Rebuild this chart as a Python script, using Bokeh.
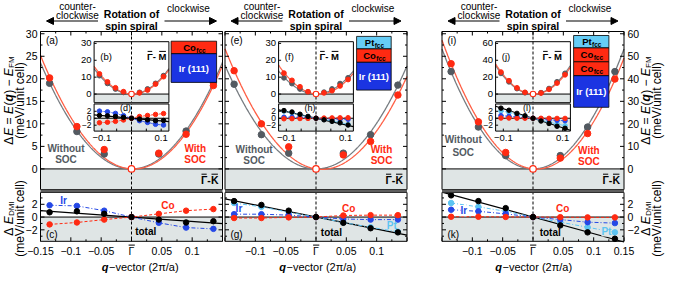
import numpy as np
from bokeh.plotting import figure
from bokeh.models import Range1d, Arrow, NormalHead
from bokeh.embed import file_html
from bokeh.resources import INLINE
from bokeh.core.properties import value

# ---------------- data ----------------
q = [-0.135, -0.09, -0.045, 0.0, 0.045, 0.09, 0.135]
q_inset = [-0.108, -0.081, -0.054, -0.027, 0.0, 0.027, 0.054, 0.081, 0.108]

# Co/Ir(111): (a) (c) (b) (d)
a_without = [19.0, 8.3, 3.3, 0.0, 3.3, 8.4, 19.1]
a_with = [20.2, 9.4, 4.3, 0.0, 3.5, 7.7, 18.5]
c_ir = [1.85, 1.75, 1.0, 0.0, -0.9, -1.65, -1.85]
c_co = [-1.15, -0.85, -0.4, 0.0, 0.5, 1.0, 1.25]
c_total = [0.75, 0.9, 0.5, 0.0, -0.4, -0.85, -0.65]
b_without = [10.9, 6.3, 3.0, 1.0, 0.0, 1.0, 3.0, 6.3, 10.9]
b_with = [11.9, 7.2, 3.7, 1.4, 0.0, 0.7, 2.4, 5.9, 10.3]
d_ir = [2.05, 1.85, 1.4, 0.75, 0.0, -0.7, -1.2, -1.75, -1.95]
d_co = [-1.3, -1.15, -0.9, -0.5, 0.0, 0.5, 0.8, 1.1, 1.35]
d_total = [0.8, 0.7, 0.5, 0.25, 0.0, -0.25, -0.45, -0.7, -0.65]

# Pt/Co/Ir(111): (e) (g) (f) (h)
e_without = [18.8, 7.6, 3.5, 0.0, 3.5, 7.6, 18.6]
e_with = [21.8, 10.0, 4.9, 0.0, 3.1, 6.1, 16.4]
g_ir = [0.45, 0.45, 0.3, 0.0, -0.3, -0.4, -0.4]
g_co = [-0.15, -0.15, -0.05, 0.0, 0.25, 0.3, 0.3]
g_pt = [2.2, 1.6, 0.75, 0.0, -0.85, -1.6, -2.3]
g_total = [2.5, 1.9, 1.0, 0.0, -0.9, -1.75, -2.4]
f_without = [9.6, 6.2, 3.0, 1.1, 0.0, 1.1, 3.0, 6.2, 9.6]
f_with = [12.4, 8.1, 4.3, 1.4, 0.0, 0.7, 2.0, 4.8, 8.6]
h_ir = [0.3, 0.3, 0.25, 0.15, 0.0, -0.15, -0.2, -0.25, -0.3]
h_co = [-0.15, -0.12, -0.08, -0.05, 0.0, 0.05, 0.1, 0.12, 0.15]
h_pt = [2.05, 1.6, 1.0, 0.45, 0.0, -0.35, -0.8, -1.2, -1.8]
h_total = [2.2, 1.8, 1.15, 0.53, 0.0, -0.45, -0.9, -1.33, -1.95]

# Pt/Co/Co/Ir(111): (i) (k) (j) (l)
i_without = [43.2, 18.6, 5.9, 0.0, 5.9, 18.6, 43.2]
i_with = [46.7, 20.9, 7.3, 0.0, 4.8, 15.7, 39.9]
k_ir = [1.15, 0.9, 0.5, 0.0, -0.4, -0.8, -0.95]
k_co = [0.05, 0.05, 0.02, 0.0, -0.02, -0.05, -0.05]
k_pt = [2.2, 1.6, 0.9, 0.0, -0.8, -1.6, -2.4]
k_total = [3.4, 2.5, 1.4, 0.0, -1.3, -2.4, -3.4]
j_without = [24.5, 14.5, 6.5, 1.6, 0.0, 1.6, 6.5, 14.5, 24.5]
j_with = [26.0, 15.8, 7.3, 2.0, 0.0, 1.2, 5.6, 13.0, 22.8]
l_ir = [0.75, 0.55, 0.35, 0.15, 0.0, -0.2, -0.4, -0.6, -0.7]
l_co = [0.05, 0.05, 0.02, 0.01, 0.0, -0.01, -0.02, -0.05, -0.05]
l_pt = [2.1, 1.7, 1.0, 0.55, 0.0, -0.6, -1.1, -1.65, -2.15]
l_total = [2.9, 2.3, 1.4, 0.7, 0.0, -0.8, -1.5, -2.3, -2.9]

# tick values / labels
energy_ticks = [[0, 5, 10, 15, 20, 25, 30], [0, 5, 10, 15, 20, 25, 30], [0, 10, 20, 30, 40, 50, 60]]
dmi_ticks = [-2, 0, 2]
dmi_minor = [-3, -1, 1, 3]
q_labels = [[-0.15, -0.1, -0.05, 0.0, 0.05, 0.1],
            [-0.1, -0.05, 0.0, 0.05, 0.1],
            [-0.1, -0.05, 0.0, 0.05, 0.1, 0.15]]
q_marks = [-0.15, -0.1, -0.05, 0.0, 0.05, 0.1, 0.15]
inset_e_ticks = [[0, 10, 20, 30], [0, 10, 20, 30], [0, 20, 40, 60]]
inset_q_labels = [-0.1, 0.1]
inset_q_marks = [-0.1, -0.05, 0.0, 0.05, 0.1]
layers = [["Co", "Ir (111)"], ["Pt", "Co", "Ir (111)"], ["Pt", "Co", "Co", "Ir (111)"]]
tags = [["(a)", "(b)", "(c)", "(d)"], ["(e)", "(f)", "(g)", "(h)"], ["(i)", "(j)", "(k)", "(l)"]]

COLS = [
    dict(wo=a_without, wi=a_with, ir=c_ir, co=c_co, pt=None, tot=c_total,
         iwo=b_without, iwi=b_with, iir=d_ir, ico=d_co, ipt=None, itot=d_total),
    dict(wo=e_without, wi=e_with, ir=g_ir, co=g_co, pt=g_pt, tot=g_total,
         iwo=f_without, iwi=f_with, iir=h_ir, ico=h_co, ipt=h_pt, itot=h_total),
    dict(wo=i_without, wi=i_with, ir=k_ir, co=k_co, pt=k_pt, tot=k_total,
         iwo=j_without, iwi=j_with, iir=l_ir, ico=l_co, ipt=l_pt, itot=l_total),
]

# ---------------- layout (canvas pixels) ----------------
W, H = 665, 273
COLS_X = [(40.0, 222.0), (224.5, 406.5), (441.5, 623.5)]
TOP = (31.0, 189.0)
SEP = (189.0, 192.0)
BOT = (192.0, 240.8)
E_RANGE = [(-4.57, 30.5), (-4.57, 30.5), (-9.14, 61.0)]
D_RANGE = (-3.8, 3.85)
Q_RANGE = (-0.15, 0.15)
IQ = 0.126
IHALF = 37.4
ITOP = (41.2, 102.0)
ISEP = (102.0, 103.5)
IBOT = (103.5, 130.6)
IE_RANGE = [(-5.0, 31.0), (-5.0, 31.0), (-10.0, 62.0)]
ID_RANGE = (-3.7, 4.1)
BOX_X = [(39.6, 85.1), (40.6, 75.2), (40.6, 75.9)]
BOX_Y = [[40.7, 53.2, 81.9], [35.9, 48.4, 61.8, 89.6], [35.0, 47.4, 61.3, 75.2, 106.8]]
XTICK_Y = 250.2
XLABEL_Y = 266.6

FONT = value("Liberation Sans")
RED = "#ff2a12"; RED_L = "#ff5e44"; GRAY_P = "#535a61"; GRAY_L = "#777c81"
BLUE = "#2548e6"; LBLUE = "#5cc4f2"; SHADE = "#dfe5e5"; SEPC = "#5e5e5e"
BOXC = {"Pt": "#66cdf6", "Co": "#ff2a12", "Ir (111)": "#1b34e2"}

p = figure(width=W, height=H, x_range=Range1d(0, W), y_range=Range1d(H, 0),
           output_backend="svg", toolbar_location=None,
           x_axis_location=None, y_axis_location=None, min_border=0)
p.grid.visible = False
p.outline_line_color = None

XR, YR = {}, {}


def xrange_map(name, lo, hi, p0, p1):
    k = (hi - lo) / (p1 - p0)
    s = lo - p0 * k
    XR[name] = Range1d(s, s + W * k)


def yrange_map(name, lo, hi, ptop, pbot):
    k = (hi - lo) / (pbot - ptop)
    s = lo - (H - pbot) * k
    YR[name] = Range1d(s, s + H * k)


GAM = []
for c in range(3):
    x0, x1 = COLS_X[c]
    g = (x0 + x1) / 2
    GAM.append(g)
    xrange_map(f"x{c}", Q_RANGE[0], Q_RANGE[1], x0, x1)
    yrange_map(f"t{c}", E_RANGE[c][0], E_RANGE[c][1], TOP[0], TOP[1])
    yrange_map(f"b{c}", D_RANGE[0], D_RANGE[1], BOT[0], BOT[1])
    xrange_map(f"ix{c}", -IQ, IQ, g - IHALF, g + IHALF)
    yrange_map(f"it{c}", IE_RANGE[c][0], IE_RANGE[c][1], ITOP[0], ITOP[1])
    yrange_map(f"id{c}", ID_RANGE[0], ID_RANGE[1], IBOT[0], IBOT[1])
p.extra_x_ranges = XR
p.extra_y_ranges = YR


def T(x, y, s, xr="default", yr="default", size="10px", color="black", style="normal",
      align="center", baseline="middle", angle=0.0, bg=None):
    kw = {}
    if bg is not None:
        kw["background_fill_color"] = bg
    p.text(x=[x], y=[y], text=[s], x_range_name=xr, y_range_name=yr, text_font=FONT,
           text_font_size=size, text_color=color, text_font_style=style, text_align=align,
           text_baseline=baseline, angle=angle, **kw)


def bar(xa, xb, y, lw=1.0):
    p.segment(x0=[xa], y0=[y], x1=[xb], y1=[y], line_color="black", line_width=lw)


def barred_label(xright, yc, parts, size, style, bar_dy):
    # parts: (text, width_px, barred) laid out left->right, ending at xright
    x = xright - sum(w for _, w, _ in parts)
    for s, w, b in parts:
        T(x, yc, s, size=size, style=style, align="left")
        if b:
            bar(x + 0.6, x + w - 0.6, yc - bar_dy)
        x += w


def fit_curve(qv, ev, lo, hi, ylo, yhi):
    qv = np.asarray(qv, float); ev = np.asarray(ev, float)
    A = np.column_stack([qv ** 2, qv])
    coef = np.linalg.lstsq(A, ev, rcond=None)[0]
    qq = np.linspace(lo, hi, 400)
    ee = coef[0] * qq ** 2 + coef[1] * qq
    m = (ee <= yhi) & (ee >= ylo)
    return qq[m], ee[m]


def slope(qv, tv):
    qv = np.asarray(qv, float); tv = np.asarray(tv, float)
    return float((qv * tv).sum() / (qv * qv).sum())


def fmt(v):
    if v == 0 and isinstance(v, float):
        return "\u0393"
    s = f"{abs(v):g}"
    return ("\u2212" + s) if v < 0 else s


def yticks(xpx, vals, yr, ln):
    p.segment(x0=[xpx] * len(vals), y0=vals, x1=[xpx + ln] * len(vals), y1=vals,
              x_range_name="default", y_range_name=yr, line_color="black", line_width=1)


def xticks(vals, xr, ypx, ln):
    p.segment(x0=vals, y0=[ypx] * len(vals), x1=vals, y1=[ypx + ln] * len(vals),
              x_range_name=xr, y_range_name="default", line_color="black", line_width=1)


def series(qv, vals, xr, yr, color, dash, lw=1.0):
    p.line(qv, vals, x_range_name=xr, y_range_name=yr, line_color=color, line_dash=dash, line_width=lw)


def dots(qv, vals, xr, yr, color, size):
    p.scatter(qv, vals, x_range_name=xr, y_range_name=yr, size=size, marker="circle",
              fill_color=color, line_color=color)


def mids(t):
    return [(a + b) / 2 for a, b in zip(t[:-1], t[1:])]


for c in range(3):
    d = COLS[c]
    x0, x1 = COLS_X[c]
    g = GAM[c]
    xr, tr, br = f"x{c}", f"t{c}", f"b{c}"
    ixr, itr, idr = f"ix{c}", f"it{c}", f"id{c}"
    ylo, yhi = E_RANGE[c]
    qlo, qhi = Q_RANGE

    # panel shading
    p.quad(left=[qlo], right=[qhi], bottom=[ylo], top=[0], x_range_name=xr, y_range_name=tr,
           fill_color=SHADE, line_color=None)
    p.line([qlo, qhi], [0, 0], x_range_name=xr, y_range_name=tr, line_color="black", line_width=1)
    p.quad(left=[qlo], right=[qhi], bottom=[D_RANGE[0]], top=[0], x_range_name=xr, y_range_name=br,
           fill_color=SHADE, line_color=None)
    p.line([qlo, qhi], [0, 0], x_range_name=xr, y_range_name=br, line_color="black", line_width=1)

    # energy fits
    qq, ee = fit_curve(q, d["wo"], qlo, qhi, ylo, yhi)
    p.line(qq, ee, x_range_name=xr, y_range_name=tr, line_color=GRAY_L, line_width=1.3)
    qq, ee = fit_curve(q, d["wi"], qlo, qhi, ylo, yhi)
    p.line(qq, ee, x_range_name=xr, y_range_name=tr, line_color=RED_L, line_width=1.3)

    # DMI lines
    s = slope(q, d["tot"])
    p.line([qlo, qhi], [s * qlo, s * qhi], x_range_name=xr, y_range_name=br, line_color="black", line_width=1.2)
    if d["pt"] is not None:
        series(q, d["pt"], xr, br, LBLUE, "4 2 1 2")
    series(q, d["ir"], xr, br, BLUE, "4 2 1 2")
    series(q, d["co"], xr, br, RED, "3 2")

    # inset backgrounds
    ie_lo, ie_hi = IE_RANGE[c]
    p.quad(left=[-IQ], right=[IQ], bottom=[ie_lo], top=[ie_hi], x_range_name=ixr, y_range_name=itr,
           fill_color="white", line_color=None)
    p.quad(left=[-IQ], right=[IQ], bottom=[ie_lo], top=[0], x_range_name=ixr, y_range_name=itr,
           fill_color=SHADE, line_color=None)
    p.line([-IQ, IQ], [0, 0], x_range_name=ixr, y_range_name=itr, line_color="black", line_width=1)
    p.quad(left=[-IQ], right=[IQ], bottom=[ID_RANGE[0]], top=[ID_RANGE[1]], x_range_name=ixr, y_range_name=idr,
           fill_color="white", line_color=None)
    p.quad(left=[-IQ], right=[IQ], bottom=[ID_RANGE[0]], top=[0], x_range_name=ixr, y_range_name=idr,
           fill_color=SHADE, line_color=None)
    p.line([-IQ, IQ], [0, 0], x_range_name=ixr, y_range_name=idr, line_color="black", line_width=1)

    # Gamma dashed line
    p.line([0, 0], [TOP[0], BOT[1]], x_range_name=xr, y_range_name="default",
           line_color="black", line_dash="3 2", line_width=1)

    # main points
    nz = [i for i in range(len(q)) if q[i] != 0]
    z = [i for i in range(len(q)) if q[i] == 0]
    dots([q[i] for i in nz], [d["wo"][i] for i in nz], xr, tr, GRAY_P, 6.5)
    dots([q[i] for i in nz], [d["wi"][i] for i in nz], xr, tr, RED, 6.5)
    p.scatter([q[i] for i in z], [d["wi"][i] for i in z], x_range_name=xr, y_range_name=tr, size=6.5,
              marker="circle", fill_color="white", line_color=RED, line_width=1.2)

    # DMI points
    if d["pt"] is not None:
        dots(q, d["pt"], xr, br, LBLUE, 5.5)
    dots(q, d["ir"], xr, br, BLUE, 5.5)
    dots(q, d["co"], xr, br, RED, 5.5)
    dots(q, d["tot"], xr, br, "black", 5.5)

    # inset energy
    qq, ee = fit_curve(q_inset, d["iwo"], -IQ, IQ, ie_lo, ie_hi)
    p.line(qq, ee, x_range_name=ixr, y_range_name=itr, line_color=GRAY_L, line_width=1.2)
    qq, ee = fit_curve(q_inset, d["iwi"], -IQ, IQ, ie_lo, ie_hi)
    p.line(qq, ee, x_range_name=ixr, y_range_name=itr, line_color=RED_L, line_width=1.2)
    nz = [i for i in range(len(q_inset)) if q_inset[i] != 0]
    z = [i for i in range(len(q_inset)) if q_inset[i] == 0]
    dots([q_inset[i] for i in nz], [d["iwo"][i] for i in nz], ixr, itr, GRAY_P, 4.8)
    dots([q_inset[i] for i in nz], [d["iwi"][i] for i in nz], ixr, itr, RED, 4.8)
    p.scatter([q_inset[i] for i in z], [d["iwi"][i] for i in z], x_range_name=ixr, y_range_name=itr, size=5.5,
              marker="circle", fill_color="white", line_color=RED, line_width=1.1)

    # inset DMI
    si = slope(q_inset, d["itot"])
    p.line([-IQ, IQ], [si * -IQ, si * IQ], x_range_name=ixr, y_range_name=idr, line_color="black", line_width=1.1)
    if d["ipt"] is not None:
        series(q_inset, d["ipt"], ixr, idr, LBLUE, "3 1", 0.8)
        dots(q_inset, d["ipt"], ixr, idr, LBLUE, 4.5)
    series(q_inset, d["iir"], ixr, idr, BLUE, "3 1", 0.8)
    dots(q_inset, d["iir"], ixr, idr, BLUE, 4.5)
    series(q_inset, d["ico"], ixr, idr, RED, "3 1", 0.8)
    dots(q_inset, d["ico"], ixr, idr, RED, 4.5)
    dots(q_inset, d["itot"], ixr, idr, "black", 4.5)

    # frames
    p.quad(left=[qlo], right=[qhi], bottom=[ylo], top=[yhi], x_range_name=xr, y_range_name=tr,
           fill_color=None, line_color="black", line_width=1)
    p.quad(left=[qlo], right=[qhi], bottom=[D_RANGE[0]], top=[D_RANGE[1]], x_range_name=xr, y_range_name=br,
           fill_color=None, line_color="black", line_width=1)
    p.quad(left=[x0], right=[x1], top=[SEP[0]], bottom=[SEP[1]], fill_color=SEPC, line_color=None)
    p.quad(left=[-IQ], right=[IQ], bottom=[ie_lo], top=[ie_hi], x_range_name=ixr, y_range_name=itr,
           fill_color=None, line_color="black", line_width=1)
    p.quad(left=[-IQ], right=[IQ], bottom=[ID_RANGE[0]], top=[ID_RANGE[1]], x_range_name=ixr, y_range_name=idr,
           fill_color=None, line_color="black", line_width=1)
    p.quad(left=[g - IHALF], right=[g + IHALF], top=[ISEP[0]], bottom=[ISEP[1]], fill_color=SEPC, line_color=None)

    # ticks main
    et = energy_ticks[c]
    for xpx, sgn in ((x0, 1), (x1, -1)):
        yticks(xpx, et, tr, 4 * sgn)
        yticks(xpx, mids(et), tr, 2 * sgn)
        yticks(xpx, dmi_ticks, br, 4 * sgn)
        yticks(xpx, dmi_minor, br, 2 * sgn)
    xticks(q_marks, xr, BOT[1], -4)
    xticks(mids(q_marks), xr, BOT[1], -2)
    xticks(q_marks, xr, TOP[0], 4)
    xticks(mids(q_marks), xr, TOP[0], 2)
    # inset ticks
    yticks(g - IHALF, inset_e_ticks[c], itr, 2.5)
    yticks(g - IHALF, dmi_ticks, idr, 2.5)
    xticks(inset_q_marks, ixr, IBOT[1], -2.5)

    # tick labels
    for v in q_labels[c]:
        T(v, XTICK_Y, fmt(v), xr=xr, size="10.5px")
        if v == 0:
            bar(g - 2.9, g + 3.3, XTICK_Y - 5.6)
    if c == 0:
        for v in et:
            T(x0 - 3, v, fmt(v), yr=tr, size="10.5px", align="right")
        for v in dmi_ticks:
            T(x0 - 3, v, fmt(v), yr=br, size="10.5px", align="right")
    if c == 2:
        for v in et:
            T(x1 + 3.5, v, fmt(v), yr=tr, size="10.5px", align="left")
        for v in dmi_ticks:
            T(x1 + 3.5, v, fmt(v), yr=br, size="10.5px", align="left")
    for v in inset_e_ticks[c]:
        T(g - IHALF - 2.5, v, fmt(v), yr=itr, size="9.5px", align="right")
    for v in dmi_ticks:
        T(g - IHALF - 2.5, v, fmt(v), yr=idr, size="8.5px", align="right")
    for v in inset_q_labels:
        T(v, 137.5, fmt(v), xr=ixr, size="9.5px")

    # layer stack box
    bx0, bx1 = g + BOX_X[c][0], g + BOX_X[c][1]
    edges = BOX_Y[c]
    for k, name in enumerate(layers[c]):
        top_px, bot_px = edges[k], edges[k + 1]
        p.quad(left=[bx0], right=[bx1], top=[top_px], bottom=[bot_px], fill_color=BOXC[name],
               line_color="black", line_width=0.8)
        cy = (top_px + bot_px) / 2
        cxm = (bx0 + bx1) / 2
        if name == "Ir (111)":
            T(cxm, cy, name, size="9.5px", color="white", style="bold")
        else:
            wmain = 12.7 if name == "Co" else 9.5
            start = cxm - (wmain + 8.7) / 2
            T(start, cy, name, size="9.5px", style="bold", align="left")
            T(start + wmain + 0.4, cy + 2.6, "fcc", size="6.5px", style="bold", align="left")

    # header
    T(g - 54, 5.6, "counter-", size="10px")
    T(g - 54, 14.8, "clockwise", size="10px")
    T(g, 13.4, "Rotation of", size="10.5px", style="bold")
    T(g, 25.0, "spin spiral", size="10.5px", style="bold")
    T(g + 57, 7.8, "clockwise", size="10px")
    p.add_layout(Arrow(end=NormalHead(size=7, fill_color="black", line_color="black"),
                       x_start=g - 33.5, y_start=20.5, x_end=g - 85, y_end=20.5, line_width=1.2))
    p.add_layout(Arrow(end=NormalHead(size=7, fill_color="black", line_color="black"),
                       x_start=g + 33, y_start=20.5, x_end=g + 85, y_end=20.5, line_width=1.2))

    # x-axis label
    xa = g - 31 + [8, 1, 0][c]
    T(xa, XLABEL_Y, "q", size="11px", style="bold italic", align="right")
    T(xa + 0.5, XLABEL_Y, "\u2212vector (2\u03c0/a)", size="11px", align="left")

    # high-symmetry path labels with overbars
    gk_yc = 168.4 + 11.3
    barred_label(g + 87.0, gk_yc, [("\u0393", 6.4, True), ("-", 3.6, False), ("K", 7.6, True)],
                 "10.5px", "bold", 6.0)
    gm_right = [g + 35.0, g + 23.0, g + 29.0][c]
    barred_label(gm_right, 56.4, [("\u0393", 5.8, True), ("- ", 5.8, False), ("M", 7.9, True)],
                 "9.5px", "bold", 5.5)

# ---------------- panel texts ----------------
tag_y = [28.4, 28.4, 56.8]
wo_xy = [(-0.108, 4.6, 2.1), (-0.102, 4.3, 1.9), (-0.115, 12.9, 7.3)]
wi_xy = [(0.105, 4.6, 2.1), (0.108, 4.3, 1.9), (0.092, 8.0, 3.1)]
inset_tag_y = [22.0, 22.0, 44.0]
for c in range(3):
    xr, tr, br = f"x{c}", f"t{c}", f"b{c}"
    ixr, itr, idr = f"ix{c}", f"it{c}", f"id{c}"
    T(-0.141, tag_y[c], tags[c][0], xr=xr, yr=tr, size="10px", align="left")
    xw, y1, y2 = wo_xy[c]
    T(xw, y1, "Without", xr=xr, yr=tr, size="10px", style="bold", color=GRAY_P)
    T(xw, y2, "SOC", xr=xr, yr=tr, size="10px", style="bold", color=GRAY_P)
    xw, y1, y2 = wi_xy[c]
    T(xw, y1, "With", xr=xr, yr=tr, size="10px", style="bold", color=RED)
    T(xw, y2, "SOC", xr=xr, yr=tr, size="10px", style="bold", color=RED)
    T(-0.141, -2.7, tags[c][2], xr=xr, yr=br, size="10px", align="left")
    T(-0.105, inset_tag_y[c], tags[c][1], xr=ixr, yr=itr, size="9.5px", align="left")
    T(-0.02, 2.9, tags[c][3], xr=ixr, yr=idr, size="9px")

T(-0.112, 2.6, "Ir", xr="x0", yr="b0", size="10px", style="bold", color=BLUE)
T(0.06, 1.8, "Co", xr="x0", yr="b0", size="10px", style="bold", color=RED)
T(0.006, -2.3, "total", xr="x0", yr="b0", size="10px", style="bold", align="left")
T(-0.127, 1.4, "Ir", xr="x1", yr="b1", size="10px", style="bold", color=BLUE)
T(0.054, 1.4, "Co", xr="x1", yr="b1", size="10px", style="bold", color=RED)
T(0.125, -1.25, "Pt", xr="x1", yr="b1", size="10px", style="bold", color=LBLUE)
T(0.008, -2.35, "total", xr="x1", yr="b1", size="10px", style="bold", align="left")
T(-0.114, 1.0, "Ir", xr="x2", yr="b2", size="10px", style="bold", color=BLUE, bg="white")
T(0.049, 1.3, "Co", xr="x2", yr="b2", size="10px", style="bold", color=RED)
T(0.121, -2.2, "Pt", xr="x2", yr="b2", size="10px", style="bold", color=LBLUE, bg=SHADE)
T(0.011, -2.35, "total", xr="x2", yr="b2", size="10px", style="bold", align="left")


# ---------------- rotated axis titles ----------------
def vlabel(xc, yc, segs):
    total = sum(s[4] + s[5] for s in segs)
    y = yc + total / 2
    for (s, style, size, dx, gap, w) in segs:
        y -= gap
        T(xc + dx, y, s, size=size, style=style, align="left", angle=np.pi / 2)
        y -= w


E_SEGS = [("\u0394", "normal", "12px", 0, 0, 8.0), ("E", "italic", "12px", 0, 1, 8.0),
          ("=", "normal", "12px", 0, 3.3, 7.0), ("E", "italic", "12px", 0, 3.3, 8.0),
          ("(", "normal", "12px", 0, 0.5, 4.0), ("q", "bold italic", "12px", 0, 0, 7.3),
          (")", "normal", "12px", 0, 0.5, 4.0), ("\u2212", "normal", "12px", 0, 3.3, 7.0),
          ("E", "italic", "12px", 0, 3.3, 8.0), ("FM", "normal", "8px", 3, 0.3, 11.6)]
D_SEGS = [("\u0394", "normal", "12px", 0, 0, 8.0), ("E", "italic", "12px", 0, 3.3, 8.0),
          ("DMI", "normal", "8px", 3, 0.3, 14.7)]
UNIT = [("(meV/unit cell)", "normal", "12px", 0, 0, 76.7)]
for (xa, xb) in ((8.0, 19.0), (645.0, 656.0)):
    vlabel(xa, 100.0, E_SEGS)
    vlabel(xb, 100.0, UNIT)
    vlabel(xa, 218.0, D_SEGS)
    vlabel(xb, 218.0, UNIT)

open("out.html", "w").write(file_html(p, INLINE))
